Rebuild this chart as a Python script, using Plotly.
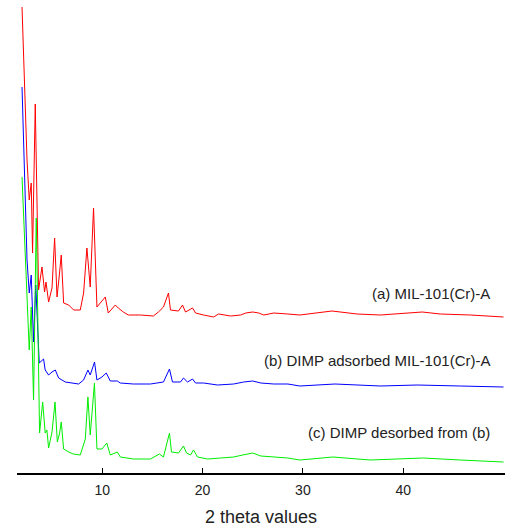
import plotly.graph_objects as go

# 2-theta positions and intensities (arbitrary units)
x_a = [2.0, 2.5, 2.72, 2.92, 3.05, 3.32, 3.65, 3.99, 4.25, 4.39, 4.65, 4.99, 5.25, 5.49, 5.72, 5.91,
       6.15, 6.65, 7.15, 7.81, 8.14, 8.47, 8.8, 9.13, 9.47, 9.8, 10.3, 10.6, 11.3, 11.6, 12.1, 12.6,
       13.8, 15.1, 15.6, 16.1, 16.6, 16.8, 17.6, 18.0, 18.3, 19.0, 19.3, 20.1, 21.1, 21.6, 22.8, 23.8,
       24.3, 25.0, 25.6, 26.1, 27.1, 28.5, 29.7, 32.9, 35.4, 37.7, 40.0, 41.9, 43.7, 46.7, 50.0]
y_a = [466, 313, 273, 290, 220, 369, 183, 206, 181, 191, 171, 185, 235, 176, 198, 218,
       170, 168, 163, 163, 180, 225, 186, 265, 166, 170, 176, 160, 168, 165, 161, 158,
       158, 157, 161, 166, 180, 163, 162, 168, 161, 165, 160, 158, 156, 159, 157, 158,
       160, 161, 160, 158, 160, 159, 158, 162, 159, 158, 160, 161, 159, 158, 156]

x_b = [2.0, 2.5, 2.72, 2.92, 3.15, 3.37, 3.72, 4.15, 4.31, 4.65, 4.99, 5.32, 5.65, 6.31, 6.98, 7.64,
       8.14, 8.57, 8.8, 9.23, 9.47, 9.97, 10.4, 10.8, 11.5, 11.8, 13.1, 14.8, 16.1, 16.7, 17.0, 17.8,
       18.1, 18.5, 19.0, 19.3, 20.1, 21.5, 23.1, 24.1, 25.0, 25.8, 27.1, 28.5, 29.7, 33.2, 37.7, 41.4,
       45.7, 50.0]
y_b = [386, 213, 180, 198, 131, 188, 110, 114, 103, 98, 101, 103, 95, 91, 90, 89,
       93, 103, 98, 111, 93, 96, 100, 92, 92, 90, 89, 89, 91, 104, 91, 91,
       95, 91, 94, 90, 90, 88, 89, 91, 92, 90, 89, 89, 87, 89, 87, 88,
       87, 86]

x_c = [2.0, 2.72, 2.92, 3.15, 3.42, 3.75, 4.06, 4.31, 4.48, 4.65, 4.99, 5.29, 5.52, 5.75, 5.91, 6.15,
       6.65, 7.12, 7.81, 8.31, 8.57, 8.8, 9.22, 9.47, 9.97, 10.45, 10.8, 11.5, 11.8, 13.1, 14.8, 15.7,
       16.1, 16.7, 16.9, 17.6, 18.1, 18.4, 18.8, 19.1, 19.5, 20.5, 21.8, 23.1, 24.0, 25.0, 25.8, 27.1,
       28.5, 29.7, 33.0, 36.7, 41.0, 42.0, 45.7, 50.0]
y_c = [296, 123, 166, 73, 255, 40, 71, 40, 43, 25, 41, 71, 31, 40, 51, 24,
       21, 19, 18, 34, 76, 38, 90, 24, 24, 30, 18, 21, 16, 14, 14, 19,
       16, 40, 21, 20, 27, 20, 18, 23, 16, 14, 15, 16, 18, 20, 17, 16,
       15, 13, 16, 13, 15, 15, 13, 11]

labels = ["(a) MIL-101(Cr)-A", "(b) DIMP adsorbed MIL-101(Cr)-A", "(c) DIMP desorbed from (b)"]
label_y = [180, 113, 41]
colors = ["#ff0000", "#0000ff", "#00ee00"]

tick_vals = [10, 20, 30, 40]

fig = go.Figure()
for xs, ys, c in [(x_a, y_a, colors[0]), (x_b, y_b, colors[1]), (x_c, y_c, colors[2])]:
    fig.add_trace(go.Scatter(x=xs, y=ys, mode="lines", line=dict(color=c, width=1), showlegend=False))

for t, ly in zip(labels, label_y):
    fig.add_annotation(x=48.9, y=ly, xref="x", yref="y", text=t, showarrow=False,
                       xanchor="right", yanchor="middle",
                       font=dict(family="Liberation Sans, Arial", size=15, color="#222222"))

fig.update_layout(
    width=506, height=527,
    margin=dict(l=17, r=1, t=0, b=54),
    plot_bgcolor="white", paper_bgcolor="white",
    font=dict(family="Liberation Sans, Arial", color="#222222"),
    xaxis=dict(range=[1.5, 50.15], tickvals=tick_vals, showgrid=False, zeroline=False,
               showline=True, linecolor="black", linewidth=1.5,
               ticks="inside", ticklen=5, tickcolor="black", tickwidth=1,
               ticklabelstandoff=3,
               tickfont=dict(size=14), title=dict(text="2 theta values", font=dict(size=18), standoff=15)),
    yaxis=dict(range=[0, 473], visible=False, showgrid=False, zeroline=False),
)

fig.write_html("out.html")
